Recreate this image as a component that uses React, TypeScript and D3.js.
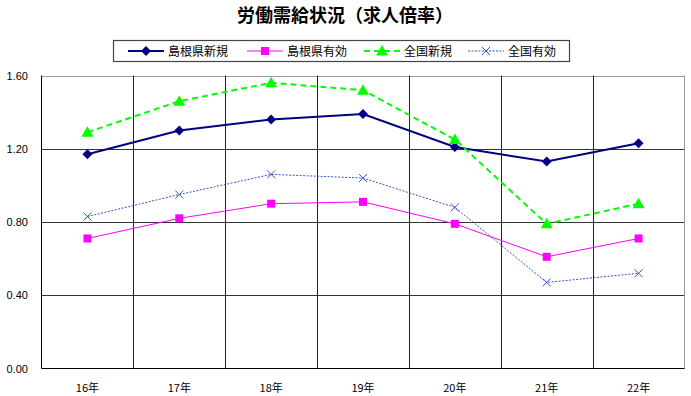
import * as d3 from "d3";
import React, { useEffect, useRef } from "react";

const years = ["16年", "17年", "18年", "19年", "20年", "21年", "22年"];
const shimaneNew = [1.17, 1.3, 1.36, 1.39, 1.21, 1.13, 1.23];
const shimaneActive = [0.71, 0.82, 0.9, 0.91, 0.79, 0.61, 0.71];
const nationalNew = [1.29, 1.46, 1.56, 1.52, 1.25, 0.79, 0.9];
const nationalActive = [0.83, 0.95, 1.06, 1.04, 0.88, 0.47, 0.52];
const yTicks = [0, 0.4, 0.8, 1.2, 1.6];
const seriesNames = ["島根県新規", "島根県有効", "全国新規", "全国有効"];

const jp = "'Noto Sans CJK JP', sans-serif";
const num = "'Liberation Sans', Arial, sans-serif";

const App = () => {
  const ref = useRef(null);

  useEffect(() => {
    const width = 691;
    const height = 396;
    const left = 41.5;
    const right = 684.5;
    const top = 75.5;
    const bottom = 368.5;

    const svg = d3.select(ref.current).attr("width", width).attr("height", height);
    svg.selectAll("*").remove();

    const x = d3.scaleBand().domain(years).range([left, right]);
    const y = d3.scaleLinear().domain([0, 1.6]).range([bottom, top]);

    const series = [
      { name: seriesNames[0], values: shimaneNew, color: "#000080", width: 2, dash: null, marker: "diamond" },
      { name: seriesNames[1], values: shimaneActive, color: "#ff00ff", width: 1, dash: null, marker: "square" },
      { name: seriesNames[2], values: nationalNew, color: "#00ff00", width: 2, dash: "6,4", marker: "triangle" },
      { name: seriesNames[3], values: nationalActive, color: "#3355cc", width: 1, dash: "2,1.5", marker: "cross" },
    ];

    // title
    svg
      .append("text")
      .attr("x", 345)
      .attr("y", 22)
      .attr("text-anchor", "middle")
      .attr("font-family", jp)
      .attr("font-weight", "bold")
      .attr("font-size", 18)
      .text("労働需給状況（求人倍率）");

    // grid
    const g = svg.append("g");
    g.selectAll(".hg")
      .data(yTicks.slice(1))
      .join("line")
      .attr("x1", left)
      .attr("x2", right)
      .attr("y1", (d) => Math.round(y(d)) + 0.5)
      .attr("y2", (d) => Math.round(y(d)) + 0.5)
      .attr("stroke", (d) => (d === 1.6 ? "#999" : "#333"))
      .attr("stroke-width", 1);

    g.selectAll(".vg")
      .data(years.slice(1))
      .join("line")
      .attr("x1", (d) => Math.round(x(d)) + 0.5)
      .attr("x2", (d) => Math.round(x(d)) + 0.5)
      .attr("y1", top)
      .attr("y2", bottom)
      .attr("stroke", "#222");

    g.append("line").attr("x1", right).attr("x2", right).attr("y1", top).attr("y2", bottom).attr("stroke", "#999");
    g.append("line").attr("x1", left).attr("x2", left).attr("y1", top).attr("y2", bottom).attr("stroke", "#000");
    g.append("line").attr("x1", left).attr("x2", right).attr("y1", bottom).attr("y2", bottom).attr("stroke", "#000");

    // y labels
    svg
      .append("g")
      .selectAll("text")
      .data(yTicks)
      .join("text")
      .attr("x", 28)
      .attr("y", (d) => y(d) + 4)
      .attr("text-anchor", "end")
      .attr("font-family", num)
      .attr("font-size", 11)
      .text((d) => d.toFixed(2));

    // x labels
    svg
      .append("g")
      .selectAll("text")
      .data(years)
      .join("text")
      .attr("x", (d) => x(d) + x.bandwidth() / 2)
      .attr("y", 392)
      .attr("text-anchor", "middle")
      .attr("font-family", jp)
      .attr("font-size", 11)
      .text((d) => d);

    const drawMarker = (sel, s, cx, cy) => {
      if (s.marker === "diamond") {
        sel.append("path").attr("d", `M${cx},${cy - 5}L${cx + 5},${cy}L${cx},${cy + 5}L${cx - 5},${cy}Z`).attr("fill", s.color);
      } else if (s.marker === "square") {
        sel.append("rect").attr("x", cx - 4).attr("y", cy - 4).attr("width", 8).attr("height", 8).attr("fill", s.color);
      } else if (s.marker === "triangle") {
        sel.append("path").attr("d", `M${cx},${cy - 6}L${cx + 6},${cy + 4.5}L${cx - 6},${cy + 4.5}Z`).attr("fill", s.color);
      } else {
        sel
          .append("path")
          .attr("d", `M${cx - 4},${cy - 4}L${cx + 4},${cy + 4}M${cx + 4},${cy - 4}L${cx - 4},${cy + 4}`)
          .attr("stroke", s.color)
          .attr("stroke-width", 1);
      }
    };

    const line = d3
      .line()
      .x((_, i) => x(years[i]) + x.bandwidth() / 2)
      .y((d) => y(d));

    series.forEach((s) => {
      const sg = svg.append("g");
      sg.append("path")
        .attr("d", line(s.values))
        .attr("fill", "none")
        .attr("stroke", s.color)
        .attr("stroke-width", s.width)
        .attr("stroke-dasharray", s.dash);
      s.values.forEach((v, i) => drawMarker(sg, s, x(years[i]) + x.bandwidth() / 2, y(v)));
    });

    // legend
    const lg = svg.append("g");
    lg.append("rect")
      .attr("x", 113.5)
      .attr("y", 40.5)
      .attr("width", 456)
      .attr("height", 21)
      .attr("fill", "#fff")
      .attr("stroke", "#444")
      .attr("stroke-width", 1.2);
    const legendX = [128, 247, 364, 468];
    series.forEach((s, i) => {
      const lx = legendX[i];
      const ly = 51;
      lg.append("line")
        .attr("x1", lx)
        .attr("x2", lx + 36)
        .attr("y1", ly)
        .attr("y2", ly)
        .attr("stroke", s.color)
        .attr("stroke-width", s.width)
        .attr("stroke-dasharray", s.dash);
      drawMarker(lg, s, lx + 18, ly);
      lg.append("text")
        .attr("x", lx + 40)
        .attr("y", ly + 4.5)
        .attr("font-family", jp)
        .attr("font-size", 12)
        .text(s.name);
    });
  }, []);

  return <svg ref={ref} style={{ position: "absolute", left: 0, top: 0 }} />;
};

export default App;
